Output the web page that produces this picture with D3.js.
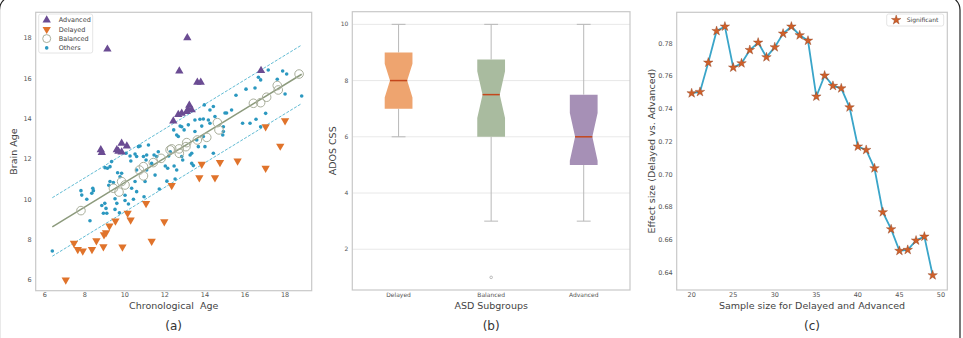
<!DOCTYPE html>
<html>
<head>
<meta charset="utf-8">
<script src="https://cdn.jsdelivr.net/npm/d3@7"></script>
<style>
    body { margin: 0; background: #fff; }
    svg { display: block; font-family: "DejaVu Sans", sans-serif; }
    .tick-label { fill: #555; }
    .axis-title { fill: #444; white-space: pre; }
</style>
</head>
<body>
<svg id="chart" width="963" height="338"></svg>
<script>
// ---- panel (a) data: [chronological age, brain age]
const advanced = [
    [9.13, 17.44], [13.12, 18.0], [12.72, 16.36], [13.62, 15.8], [13.79, 15.8],
    [16.8, 16.38], [8.8, 12.45], [8.85, 12.32], [9.84, 12.78], [10.1, 12.64],
    [9.6, 12.45], [9.68, 12.38], [9.84, 12.34], [12.42, 13.88], [12.67, 14.2],
    [12.84, 14.26], [13.22, 14.66], [13.17, 14.43], [13.34, 14.43], [13.09, 14.35]
];
const delayed = [
    [7.05, 6.0], [7.46, 7.83], [7.65, 7.52], [7.9, 7.44], [8.36, 7.52],
    [8.58, 7.95], [8.93, 7.65], [8.96, 8.25], [9.06, 8.35], [9.23, 8.68],
    [9.53, 8.93], [9.88, 7.64], [10.14, 9.31], [10.29, 8.98], [11.06, 9.8],
    [11.34, 7.93], [11.97, 8.89], [12.34, 10.69], [13.72, 11.07], [13.84, 11.74],
    [14.5, 11.07], [14.75, 11.83], [15.63, 11.9], [17.03, 11.54], [17.03, 13.6],
    [17.76, 12.64], [18.0, 13.9]
];
const balanced = [
    [7.81, 9.44], [9.43, 10.55], [9.71, 10.36], [9.84, 10.88], [10.01, 10.71],
    [10.73, 11.45], [10.93, 11.62], [10.93, 11.16], [11.42, 11.82], [11.81, 12.03],
    [12.26, 12.45], [12.34, 12.5], [12.71, 12.5], [12.72, 12.28], [13.05, 12.61],
    [13.09, 12.81], [13.62, 12.94], [14.09, 13.07], [14.62, 13.8], [14.7, 13.44],
    [16.42, 14.76], [16.78, 14.79], [17.08, 15.06], [17.61, 15.64], [17.66, 15.42],
    [18.7, 16.21]
];
const others = [
    [6.38, 7.44], [7.81, 10.43], [7.85, 10.21], [8.1, 10.0], [8.26, 8.94],
    [8.35, 10.3], [8.43, 10.43], [8.4, 10.55], [8.85, 9.69], [9.0, 9.8],
    [9.06, 9.55], [9.1, 9.31], [8.93, 9.31], [9.01, 11.57], [9.13, 11.54],
    [9.26, 11.62], [9.26, 10.88], [9.43, 10.83], [9.34, 11.87], [9.51, 10.03],
    [9.6, 9.8], [9.51, 9.5], [9.73, 9.33], [9.64, 11.32], [9.76, 11.12],
    [9.84, 11.29], [10.01, 9.94], [10.01, 10.2], [10.18, 9.77], [10.06, 12.28],
    [10.26, 12.15], [10.34, 10.55], [10.51, 10.88], [10.59, 10.38], [10.51, 12.24],
    [10.59, 12.12], [10.43, 10.0], [10.68, 12.61], [10.76, 12.64], [10.93, 12.12],
    [11.06, 11.95], [11.09, 12.2], [11.01, 10.88], [10.96, 10.13], [11.18, 12.69],
    [11.34, 11.78], [11.46, 12.2], [11.59, 12.12], [11.67, 12.36], [11.72, 10.51],
    [11.51, 11.2], [12.02, 11.65], [12.14, 11.54], [12.19, 12.15], [12.27, 12.36],
    [12.44, 13.44], [12.51, 11.01], [12.46, 11.65], [12.59, 11.45], [12.59, 13.19],
    [12.67, 13.11], [12.76, 13.63], [12.84, 13.6], [12.84, 12.12], [12.89, 11.95],
    [12.96, 13.44], [13.17, 13.69], [13.26, 12.2], [13.34, 12.28], [13.5, 13.93],
    [13.5, 13.36], [13.34, 11.78], [13.42, 11.67], [13.59, 12.94], [13.67, 12.61],
    [13.75, 13.97], [13.84, 13.63], [13.92, 13.11], [14.0, 12.61], [13.92, 13.98],
    [13.97, 14.68], [14.17, 13.93], [14.25, 13.77], [14.25, 14.43], [14.42, 14.6],
    [14.42, 12.28], [14.5, 14.1], [14.92, 13.6], [14.92, 13.36], [14.89, 13.19],
    [15.0, 14.28], [15.08, 14.28], [15.33, 14.43], [15.55, 15.16], [15.88, 13.77],
    [16.05, 15.46], [16.25, 13.77], [16.5, 15.52], [16.55, 13.97], [16.67, 16.05],
    [16.78, 15.92], [16.78, 13.6], [17.03, 14.26], [17.16, 16.41], [17.61, 15.95],
    [17.88, 16.36], [18.0, 15.22], [18.08, 16.21], [18.83, 15.12], [11.09, 11.45],
    [10.59, 11.45], [9.2, 10.7], [12.1, 10.9], [10.3, 11.9]
];
// regression fit and band (brain age = slope * age + intercept)
const fitSlope = 0.608;
const fitIntercept = 4.75;
const fitRange = [6.38, 18.83];
const bandOffsets = [1.45, -1.45];

// ---- panel (b) data
const groups = ["Delayed", "Balanced", "Advanced"];
const whiskerLow = [6, 3, 3];
const q1 = [7, 6, 5];
const medians = [8, 7.5, 6];
const q3 = [9, 8.75, 7.5];
const whiskerHigh = [10, 10, 10];
const notchLow = [7.4, 6.67, 5.15];
const notchHigh = [8.6, 8.33, 6.85];
const outliers = [["Balanced", 1]];
const boxColors = ["#eea46f", "#a9bb9f", "#a690b6"];

// ---- panel (c) data
const sampleSizes = [20, 21, 22, 23, 24, 25, 26, 27, 28, 29, 30, 31, 32, 33, 34,
    35, 36, 37, 38, 39, 40, 41, 42, 43, 44, 45, 46, 47, 48, 49];
const effectSizes = [0.7495, 0.7503, 0.7682, 0.7875, 0.7902, 0.7652, 0.7678, 0.7759,
    0.7804, 0.7715, 0.7776, 0.7859, 0.7902, 0.7849, 0.7816, 0.7475, 0.7603, 0.754,
    0.7525, 0.7409, 0.717, 0.7149, 0.7037, 0.6769, 0.6665, 0.6533, 0.6539, 0.6596,
    0.662, 0.6384];

const svg = d3.select('#chart');
const frameColor = '#c8c8c8';

// outer figure border
svg.append('rect')
    .attr('x', -0.5).attr('y', -4)
    .attr('width', 960.5).attr('height', 400)
    .attr('rx', 14)
    .attr('fill', 'none')
    .attr('stroke', '#222')
    .attr('stroke-width', 1.2);

// helper: frame + tick labels for a panel
function drawFrame(box, x, y, xTicks, yTicks, xFmt, yFmt, fs) {
    const g = svg.append('g');
    g.append('rect')
        .attr('x', box.left).attr('y', box.top)
        .attr('width', box.right - box.left)
        .attr('height', box.bottom - box.top)
        .attr('fill', 'none')
        .attr('stroke', frameColor)
        .attr('stroke-width', 1.2);
    g.selectAll('.xt').data(xTicks).enter().append('text')
        .attr('class', 'tick-label')
        .attr('x', d => x(d))
        .attr('y', 297.3)
        .attr('text-anchor', 'middle')
        .attr('font-size', fs)
        .text(xFmt);
    g.selectAll('.yt').data(yTicks).enter().append('text')
        .attr('class', 'tick-label')
        .attr('x', box.left - 4)
        .attr('y', d => y(d) + fs * 0.35)
        .attr('text-anchor', 'end')
        .attr('font-size', fs)
        .text(yFmt);
    return g;
}

function titles(box, xTitle, yTitle, letter, yTitleX) {
    const cx = (box.left + box.right) / 2;
    const cy = (box.top + box.bottom) / 2;
    svg.append('text').attr('class', 'axis-title')
        .attr('x', cx).attr('y', 309)
        .attr('text-anchor', 'middle').attr('font-size', 9.5)
        .text(xTitle);
    svg.append('text').attr('class', 'axis-title')
        .attr('transform', `translate(${yTitleX},${cy}) rotate(-90)`)
        .attr('text-anchor', 'middle').attr('font-size', 9.5)
        .text(yTitle);
    svg.append('text')
        .attr('x', cx).attr('y', 330)
        .attr('text-anchor', 'middle').attr('font-size', 12)
        .attr('fill', '#333')
        .text(letter);
}

// ===== panel (a)
const boxA = { left: 35.7, right: 311.7, top: 12.3, bottom: 290.7 };
const xA = d3.scaleLinear().domain([5.55, 19.33]).range([boxA.left, boxA.right]);
const yA = d3.scaleLinear().domain([5.47, 19.27]).range([boxA.bottom, boxA.top]);
drawFrame(boxA, xA, yA, [6, 8, 10, 12, 14, 16, 18], [6, 8, 10, 12, 14, 16, 18],
    d => d, d => d, 6.5);
titles(boxA, 'Chronological  Age', 'Brain Age', '(a)', 17);

const gA = svg.append('g');
const fitY = x => fitSlope * x + fitIntercept;
const lineA = d3.line().x(d => xA(d[0])).y(d => yA(d[1]));

bandOffsets.forEach(off => {
    gA.append('path')
        .attr('d', lineA(fitRange.map(x => [x, fitY(x) + off])))
        .attr('stroke', '#3aaac8').attr('stroke-width', 0.8)
        .attr('stroke-dasharray', '3,1.5')
        .attr('fill', 'none');
});

gA.selectAll('.oth').data(others).enter().append('circle')
    .attr('cx', d => xA(d[0])).attr('cy', d => yA(d[1]))
    .attr('r', 1.8)
    .attr('fill', '#2b98c0');

gA.append('path')
    .attr('d', lineA(fitRange.map(x => [x, fitY(x)])))
    .attr('stroke', '#8c9a7c').attr('stroke-width', 1.5)
    .attr('fill', 'none');

gA.selectAll('.bal').data(balanced).enter().append('circle')
    .attr('cx', d => xA(d[0])).attr('cy', d => yA(d[1]))
    .attr('r', 4.3)
    .attr('fill', 'none')
    .attr('stroke', '#a9ae9b').attr('stroke-width', 1);

const tri = d3.symbol().type(d3.symbolTriangle).size(30);
gA.selectAll('.adv').data(advanced).enter().append('path')
    .attr('d', tri)
    .attr('transform', d => `translate(${xA(d[0])},${yA(d[1])})`)
    .attr('fill', '#6b4c93');
gA.selectAll('.del').data(delayed).enter().append('path')
    .attr('d', tri)
    .attr('transform', d => `translate(${xA(d[0])},${yA(d[1])}) rotate(180)`)
    .attr('fill', '#e0732b');

// legend (a)
const legA = svg.append('g').attr('transform', 'translate(38.7,14)');
legA.append('rect')
    .attr('width', 54).attr('height', 39).attr('rx', 2)
    .attr('fill', '#fff').attr('fill-opacity', 0.8)
    .attr('stroke', '#ddd').attr('stroke-width', 0.8);
const legItems = [
    { name: 'Advanced', kind: 'adv' },
    { name: 'Delayed', kind: 'del' },
    { name: 'Balanced', kind: 'bal' },
    { name: 'Others', kind: 'oth' }
];
legItems.forEach((it, i) => {
    const cy = 6 + i * 9.3;
    if (it.kind === 'adv') {
        legA.append('path').attr('d', tri).attr('transform', `translate(8,${cy})`).attr('fill', '#6b4c93');
    } else if (it.kind === 'del') {
        legA.append('path').attr('d', tri).attr('transform', `translate(8,${cy}) rotate(180)`).attr('fill', '#e0732b');
    } else if (it.kind === 'bal') {
        legA.append('circle').attr('cx', 8).attr('cy', cy).attr('r', 4).attr('fill', 'none')
            .attr('stroke', '#a9ae9b').attr('stroke-width', 1);
    } else {
        legA.append('circle').attr('cx', 8).attr('cy', cy).attr('r', 1.8).attr('fill', '#2b98c0');
    }
    legA.append('text')
        .attr('x', 20).attr('y', cy + 2.4)
        .attr('font-size', 6.5).attr('fill', '#444')
        .text(it.name);
});

// ===== panel (b)
const boxB = { left: 352.3, right: 630, top: 11.7, bottom: 290 };
const xB = d3.scaleLinear().domain([0.5, 3.5]).range([boxB.left, boxB.right]);
const yB = d3.scaleLinear().domain([0.55, 10.45]).range([boxB.bottom, boxB.top]);
const gB = svg.append('g');
// horizontal grid
gB.selectAll('.grid').data([2, 4, 6, 8, 10]).enter().append('line')
    .attr('x1', boxB.left).attr('x2', boxB.right)
    .attr('y1', d => yB(d)).attr('y2', d => yB(d))
    .attr('stroke', '#e2e2e2').attr('stroke-width', 0.8);
drawFrame(boxB, d => xB(groups.indexOf(d) + 1), yB, groups, [2, 4, 6, 8, 10],
    d => d, d => d, 6);
titles(boxB, 'ASD Subgroups', 'ADOS CSS', '(b)', 336);

const halfW = (xB(1.15) - xB(1));
const waist = halfW * 0.62;
groups.forEach((g, i) => {
    const cx = xB(i + 1);
    // whiskers and caps
    [[whiskerLow[i], q1[i]], [q3[i], whiskerHigh[i]]].forEach(seg => {
        gB.append('line')
            .attr('x1', cx).attr('x2', cx)
            .attr('y1', yB(seg[0])).attr('y2', yB(seg[1]))
            .attr('stroke', '#b8b8b8').attr('stroke-width', 1);
    });
    [whiskerLow[i], whiskerHigh[i]].forEach(v => {
        gB.append('line')
            .attr('x1', cx - halfW / 2).attr('x2', cx + halfW / 2)
            .attr('y1', yB(v)).attr('y2', yB(v))
            .attr('stroke', '#b8b8b8').attr('stroke-width', 1);
    });
    // notched box
    const pts = [
        [cx - halfW, yB(q1[i])], [cx + halfW, yB(q1[i])],
        [cx + halfW, yB(notchLow[i])], [cx + waist, yB(medians[i])],
        [cx + halfW, yB(notchHigh[i])], [cx + halfW, yB(q3[i])],
        [cx - halfW, yB(q3[i])], [cx - halfW, yB(notchHigh[i])],
        [cx - waist, yB(medians[i])], [cx - halfW, yB(notchLow[i])]
    ];
    gB.append('path')
        .attr('d', d3.line()(pts) + 'Z')
        .attr('fill', boxColors[i]);
    gB.append('line')
        .attr('x1', cx - waist).attr('x2', cx + waist)
        .attr('y1', yB(medians[i])).attr('y2', yB(medians[i]))
        .attr('stroke', '#c4471c').attr('stroke-width', 1.5);
});
gB.selectAll('.outlier').data(outliers).enter().append('circle')
    .attr('cx', d => xB(groups.indexOf(d[0]) + 1))
    .attr('cy', d => yB(d[1]))
    .attr('r', 1.3)
    .attr('fill', 'none').attr('stroke', '#aaa').attr('stroke-width', 0.8);

// ===== panel (c)
const boxC = { left: 676.7, right: 947.3, top: 12.3, bottom: 290 };
const xC = d3.scaleLinear().domain([18.2, 50.76]).range([boxC.left, boxC.right]);
const yC = d3.scaleLinear().domain([0.6294, 0.7989]).range([boxC.bottom, boxC.top]);
drawFrame(boxC, xC, yC, [20, 25, 30, 35, 40, 45, 50],
    [0.64, 0.66, 0.68, 0.70, 0.72, 0.74, 0.76, 0.78],
    d => d, d => d.toFixed(2), 6.5);
titles(boxC, 'Sample size for Delayed and Advanced', 'Effect size (Delayed vs. Advanced)', '(c)', 655);

const gC = svg.append('g');
const cData = sampleSizes.map((s, i) => [s, effectSizes[i]]);
gC.append('path')
    .attr('d', d3.line().x(d => xC(d[0])).y(d => yC(d[1]))(cData))
    .attr('fill', 'none')
    .attr('stroke', '#3aa5c9').attr('stroke-width', 1.8);
const star = d3.symbol().type(d3.symbolStar).size(28);
gC.selectAll('.star').data(cData).enter().append('path')
    .attr('d', star)
    .attr('transform', d => `translate(${xC(d[0])},${yC(d[1])})`)
    .attr('fill', '#d0602a')
    .attr('stroke', '#8a3c1c').attr('stroke-width', 0.4);

// legend (c)
const legC = svg.append('g').attr('transform', 'translate(886.7,14)');
legC.append('rect')
    .attr('width', 57).attr('height', 12).attr('rx', 2)
    .attr('fill', '#fff')
    .attr('stroke', '#ddd').attr('stroke-width', 0.8);
legC.append('path').attr('d', star)
    .attr('transform', 'translate(9.5,6)')
    .attr('fill', '#d0602a').attr('stroke', '#8a3c1c').attr('stroke-width', 0.4);
legC.append('text')
    .attr('x', 20).attr('y', 8.3)
    .attr('font-size', 6).attr('fill', '#444')
    .text('Significant');
</script>
</body>
</html>
